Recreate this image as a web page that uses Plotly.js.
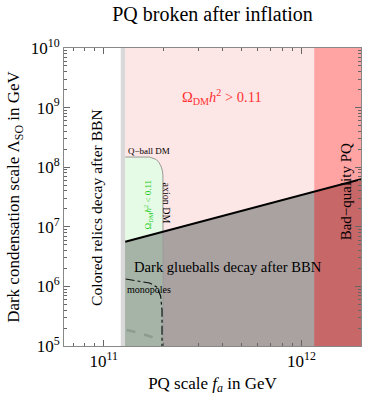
<!DOCTYPE html>
<html><head><meta charset="utf-8">
<script src="https://cdn.plot.ly/plotly-3.0.1.min.js"></script>
<style>html,body{margin:0;padding:0;background:#fff}</style>
</head><body><div id="chart" style="width:371px;height:401px"></div>
<script>
// ---- data ----
const faRange = [6.3e10, 2e12];
const lambdaRange = [1e5, 1e10];
const coloredRelicsFa = [1.22e11, 1.285e11];
const badQualityFa = 1.16e12;
const axionDMFa = 2.0e11;
const glueballLineFa = [1.285e11, 2e12];
const glueballLineLambda = [5.6e6, 6.3e7];
const qballEdgeFa = [1.285e11, 1.708e11, 1.842e11, 1.900e11, 1.947e11, 1.977e11, 1.993e11, 2.0e11];
const qballEdgeLambda = [1.48e8, 1.48e8, 1.35e8, 1.21e8, 1.05e8, 8.97e7, 7.4e7, 1e5];
const monopoleFa = [1.291e11, 1.521e11, 1.706e11, 1.854e11, 1.941e11, 1.972e11, 1.972e11];
const monopoleLambda = [1.33e6, 1.233e6, 1.14e6, 9.77e5, 6.9e5, 4.02e5, 1e5];
const monopole2Fa = [1.306e11, 1.521e11, 1.746e11, 1.92e11];
const monopole2Lambda = [1.85e5, 1.65e5, 1.42e5, 1.12e5];
const xTickVals = [1e11, 1e12];
const xTickText = ['10<sup>11</sup>', '10<sup>12</sup>'];
const xMinorVals = [7e10, 8e10, 9e10, 2e11, 3e11, 4e11, 5e11, 6e11, 7e11, 8e11, 9e11];
const yTickVals = [1e5, 1e6, 1e7, 1e8, 1e9, 1e10];
const yTickText = ['10<sup>5</sup>', '10<sup>6</sup>', '10<sup>7</sup>', '10<sup>8</sup>', '10<sup>9</sup>', '10<sup>10</sup>'];
const yMinorVals = [];
[1e5, 1e6, 1e7, 1e8, 1e9].forEach(d => [2,3,4,5,6,7,8,9].forEach(m => yMinorVals.push(d*m)));

// ---- geometry helpers ----
const L = Math.log10;
function glueLine(fa) {
  const t = (L(fa) - L(glueballLineFa[0])) / (L(glueballLineFa[1]) - L(glueballLineFa[0]));
  return Math.pow(10, L(glueballLineLambda[0]) + t * (L(glueballLineLambda[1]) - L(glueballLineLambda[0])));
}
const y0 = lambdaRange[0], y1 = lambdaRange[1];
const c0 = coloredRelicsFa[0], c1 = coloredRelicsFa[1], xR = faRange[1];
const FONT = 'Liberation Serif, Times New Roman, serif';
function poly(xs, ys, color) {
  return {x: xs, y: ys, type: 'scatter', mode: 'lines', fill: 'toself', fillcolor: color,
          line: {width: 0, color: color}, hoverinfo: 'skip', showlegend: false};
}
function line(xs, ys, color, width, dash) {
  return {x: xs, y: ys, type: 'scatter', mode: 'lines', line: {color: color, width: width, dash: dash || 'solid'},
          hoverinfo: 'skip', showlegend: false};
}
const traces = [
  poly([c0, c1, c1, c0], [y0, y0, y1, y1], '#d9d9d9'),
  poly([c1, badQualityFa, badQualityFa, c1], [y0, y0, y1, y1], '#fde6e6'),
  poly([c1].concat(qballEdgeFa), [y0].concat(qballEdgeLambda), '#e6fbe6'),
  poly([c1, xR, xR, c1], [glueballLineLambda[0], glueLine(xR), y0, y0], '#a9a2a1'),
  poly([c1, axionDMFa, axionDMFa, c1], [glueballLineLambda[0], glueLine(axionDMFa), y0, y0], '#a6b4a8'),
  poly([badQualityFa, xR, xR, badQualityFa], [y0, y0, y1, y1], 'rgba(255,0,0,0.36)'),
  line(qballEdgeFa, qballEdgeLambda, '#9a9a9a', 1),
  line(glueballLineFa, glueballLineLambda, '#000', 2),
  line(monopoleFa, monopoleLambda, '#111', 1.2, 'dashdot'),
  line(monopole2Fa, monopole2Lambda, '#8c9c90', 2.5, 'dash')
];
function ann(text, x, y, size, opts) {
  return Object.assign({text: text, x: L(x), y: L(y), xref: 'x', yref: 'y', showarrow: false,
    font: {family: FONT, size: size, color: '#000'}}, opts || {});
}
const annotations = [
  ann('Colored relics decay after BBN', 9.12e10, 2.14e7, 15.6, {textangle: -90}),
  ann('Bad−quality PQ', 1.687e12, 3.84e7, 15, {textangle: -90}),
  ann('Dark glueballs decay after BBN', 1.384e11, 2.12e6, 14.6, {xanchor: 'left'}),
  ann('Ω<sub>DM</sub><i>h</i><sup>2</sup> > 0.11', 3.945e11, 1.507e9, 14.5, {font: {family: FONT, size: 14.5, color: '#ff3030'}}),
  ann('Q−ball DM', 1.7e11, 1.89e8, 9),
  ann('axion DM', 2.09e11, 2.56e7, 10, {textangle: 90}),
  ann('Ω<sub>DM</sub><i>h</i><sup>2</sup> &lt; 0.11', 1.675e11, 2.37e7, 9, {textangle: -90, font: {family: FONT, size: 9, color: '#22cc22'}}),
  ann('monopoles', 1.687e11, 9.04e5, 10)
];
const axisCommon = {
  type: 'log', ticks: 'inside', ticklen: 6, tickcolor: '#666', tickwidth: 1,
  showline: true, linecolor: '#888', linewidth: 1, mirror: 'allticks',
  showgrid: false, zeroline: false,
  tickfont: {family: FONT, size: 17, color: '#000'}
};
const layout = {
  width: 371, height: 401,
  margin: {l: 64, r: 10, t: 48, b: 55},
  paper_bgcolor: '#fff', plot_bgcolor: '#fff',
  title: {text: 'PQ broken after inflation', font: {family: FONT, size: 20, color: '#000'},
          x: 0.5, xref: 'paper', y: 1 - 14/401, yref: 'container', yanchor: 'middle'},
  xaxis: Object.assign({}, axisCommon, {
    range: [L(faRange[0]), L(faRange[1])], tickmode: 'array', tickvals: xTickVals, ticktext: xTickText,
    minor: {tickmode: 'array', tickvals: xMinorVals, ticks: 'inside', ticklen: 3, tickcolor: '#666', showgrid: false},
    title: {text: 'PQ scale <i>f<sub>a</sub></i> in GeV', font: {family: FONT, size: 17, color: '#000'}, standoff: 6}
  }),
  yaxis: Object.assign({}, axisCommon, {
    range: [L(lambdaRange[0]), L(lambdaRange[1])], tickmode: 'array', tickvals: yTickVals, ticktext: yTickText,
    minor: {tickmode: 'array', tickvals: yMinorVals, ticks: 'inside', ticklen: 3, tickcolor: '#666', showgrid: false},
    title: {text: 'Dark condensation scale Λ<sub>SO</sub> in GeV', font: {family: FONT, size: 17, color: '#000'}, standoff: 6}
  }),
  annotations: annotations
};
Plotly.newPlot('chart', traces, layout, {displayModeBar: false, staticPlot: true});
</script></body></html>
